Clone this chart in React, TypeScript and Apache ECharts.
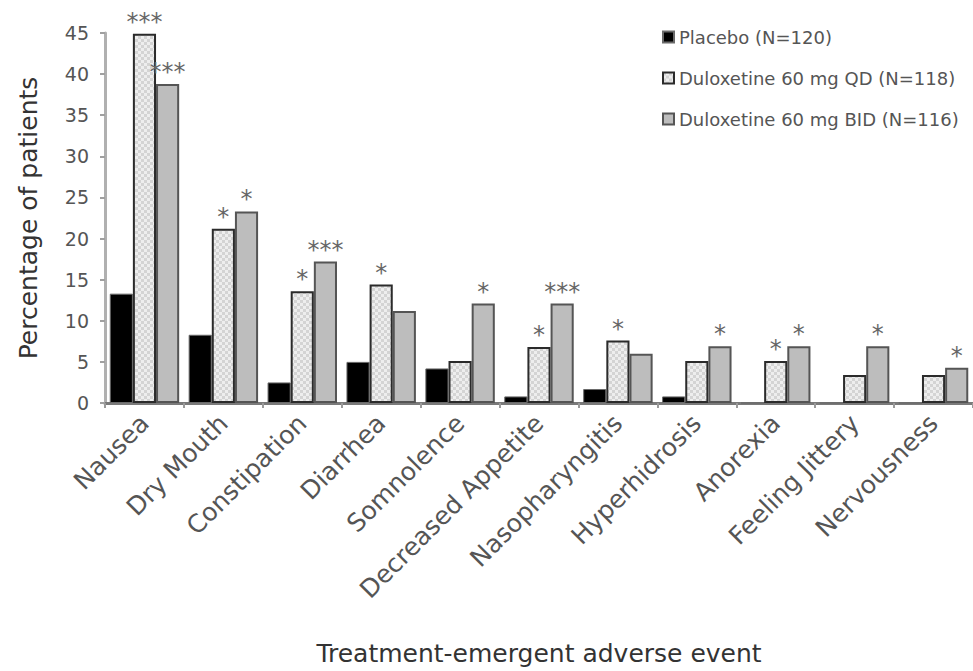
import React, { useEffect, useRef } from "react";
import * as echarts from "echarts";

// Treatment-emergent adverse events (% of patients) by treatment arm
const categories = [
  "Nausea",
  "Dry Mouth",
  "Constipation",
  "Diarrhea",
  "Somnolence",
  "Decreased Appetite",
  "Nasopharyngitis",
  "Hyperhidrosis",
  "Anorexia",
  "Feeling Jittery",
  "Nervousness",
];

const seriesNames = [
  "Placebo (N=120)",
  "Duloxetine 60 mg QD (N=118)",
  "Duloxetine 60 mg BID (N=116)",
];

const placebo = [13.3, 8.3, 2.5, 5.0, 4.2, 0.8, 1.7, 0.8, 0, 0, 0];
const qd = [44.9, 21.2, 13.6, 14.4, 5.1, 6.8, 7.6, 5.1, 5.1, 3.4, 3.4];
const bid = [38.8, 23.3, 17.2, 11.2, 12.1, 12.1, 6.0, 6.9, 6.9, 6.9, 4.3];

// Significance markers versus placebo
const sigQD = ["***", "*", "*", "*", "", "*", "*", "", "*", "", ""];
const sigBID = ["***", "*", "***", "", "*", "***", "", "*", "*", "*", "*"];

const yTicks = { min: 0, max: 45, interval: 5 };

function makeChecker(): HTMLCanvasElement {
  const c = document.createElement("canvas");
  c.width = 6;
  c.height = 6;
  const ctx = c.getContext("2d")!;
  ctx.fillStyle = "#eeeeee";
  ctx.fillRect(0, 0, 6, 6);
  ctx.fillStyle = "#d4d4d4";
  ctx.fillRect(0, 0, 3, 3);
  ctx.fillRect(3, 3, 3, 3);
  return c;
}

export default function App() {
  const ref = useRef<HTMLDivElement>(null);

  useEffect(() => {
    if (!ref.current) return;
    const chart = echarts.init(ref.current, null, { renderer: "svg" });
    const font = "DejaVu Sans";
    const checker = { image: makeChecker(), repeat: "repeat" } as any;

    const starLabel = (marks: string[]) => ({
      show: true,
      position: "top" as const,
      distance: 0,
      fontSize: 24,
      fontFamily: font,
      color: "#666",
      formatter: (p: any) => marks[p.dataIndex],
    });

    chart.setOption({
      animation: false,
      textStyle: { fontFamily: font },
      grid: { left: 105, right: 0, top: 33, bottom: 265, containLabel: false },
      legend: {
        data: seriesNames,
        orient: "vertical",
        left: 662,
        top: 28,
        padding: 0,
        itemWidth: 11,
        itemHeight: 11,
        itemGap: 23,
        icon: "rect",
        textStyle: { fontSize: 18, color: "#555", fontFamily: font },
      },
      xAxis: {
        type: "category",
        data: categories,
        name: "Treatment-emergent adverse event",
        nameLocation: "middle",
        nameGap: 238,
        nameTextStyle: { fontSize: 25, color: "#333", fontFamily: font },
        axisLine: { lineStyle: { color: "#7a7a7a", width: 3 } },
        axisTick: { show: true, length: 5, lineStyle: { color: "#9a9a9a", width: 2 } },
        axisLabel: {
          interval: 0,
          rotate: 45,
          margin: 16,
          fontSize: 25,
          color: "#555",
          fontFamily: font,
        },
      },
      yAxis: {
        type: "value",
        min: yTicks.min,
        max: yTicks.max,
        interval: yTicks.interval,
        name: "Percentage of patients",
        nameLocation: "middle",
        nameRotate: 90,
        nameGap: 64,
        nameTextStyle: { fontSize: 25, color: "#333", fontFamily: font },
        axisLine: { show: true, lineStyle: { color: "#b0b0b0", width: 3 } },
        axisTick: { show: true, length: 5, lineStyle: { color: "#a0a0a0", width: 2 } },
        splitLine: { show: false },
        axisLabel: { fontSize: 19, color: "#555", margin: 16, fontFamily: font },
      },
      series: [
        {
          name: seriesNames[0],
          type: "bar",
          data: placebo,
          barGap: "0%",
          barCategoryGap: "12%",
          itemStyle: { color: "#000", borderColor: "#6a6a6a", borderWidth: 1 },
        },
        {
          name: seriesNames[1],
          type: "bar",
          data: qd,
          itemStyle: { color: checker, borderColor: "#2b2b2b", borderWidth: 2 },
          label: starLabel(sigQD),
        },
        {
          name: seriesNames[2],
          type: "bar",
          data: bid,
          itemStyle: { color: "#bdbdbd", borderColor: "#555", borderWidth: 2 },
          label: starLabel(sigBID),
        },
      ],
    });

    return () => chart.dispose();
  }, []);

  return (
    <div
      ref={ref}
      style={{ position: "absolute", left: 0, top: 0, width: 973, height: 671 }}
    />
  );
}
